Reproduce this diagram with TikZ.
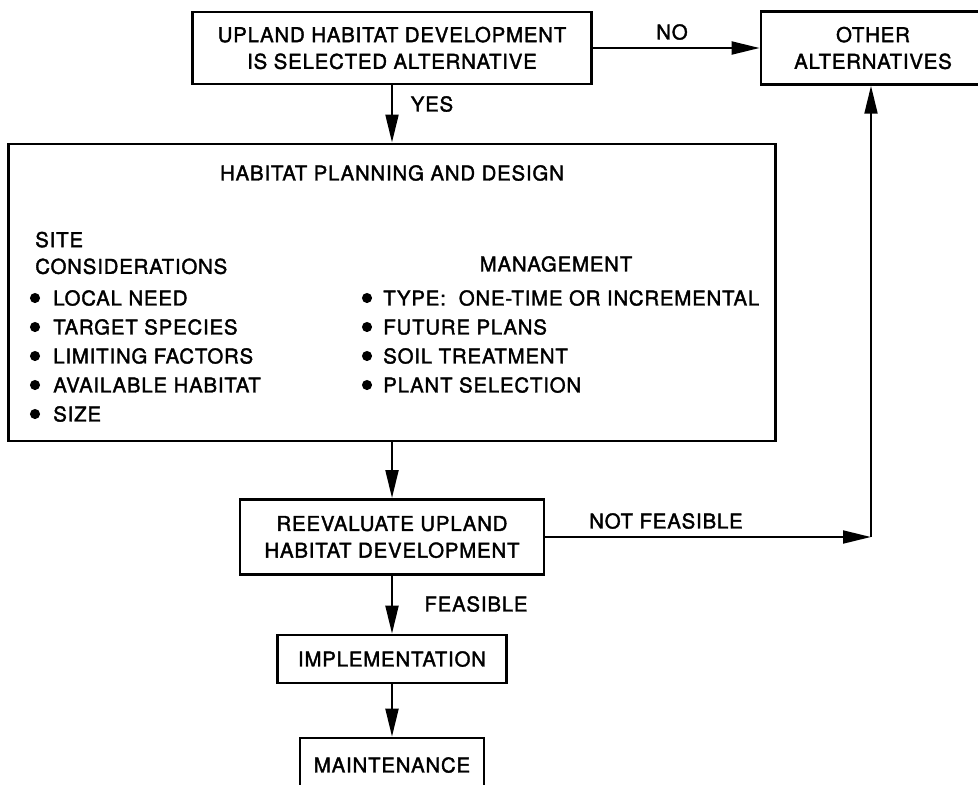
\documentclass[tikz,border=0pt]{standalone}
\usepackage{fontspec}
\setmainfont{TeX Gyre Heros}[FakeBold=1.8,LetterSpace=4]
\usetikzlibrary{arrows.meta,positioning}
\tikzset{
  >={Triangle[length=7mm,width=3.2mm]},
  box/.style={draw,line width=1.8pt,align=center,inner sep=0pt,
    font=\fontsize{14.5}{19}\selectfont},
  flow/.style={->,line width=1.8pt},
  tag/.style={font=\fontsize{14.5}{19}\selectfont,inner sep=0pt},
}

\begin{document}
\begin{tikzpicture}[x=0.025cm,y=-0.025cm]
  \useasboundingbox (0,0) rectangle (978,784);
  % boxes
  \node[box,minimum width=9.98cm,minimum height=1.8cm] (sel) at (392,48) {UPLAND HABITAT DEVELOPMENT\\IS SELECTED ALTERNATIVE};
  \node[box,minimum width=5.6cm,minimum height=1.82cm] (other) at (873,48) {OTHER\\ALTERNATIVES};
  \node[box,minimum width=19.18cm,minimum height=7.43cm] (plan) at (392,292.5) {};
  \node[box,minimum width=7.6cm,minimum height=1.88cm] (re) at (392,537) {REEVALUATE UPLAND\\HABITAT DEVELOPMENT};
  \node[box,minimum width=5.72cm,minimum height=1.2cm] (impl) at (392,659) {IMPLEMENTATION};
  \node[box,minimum width=4.6cm,minimum height=1.35cm] (maint) at (392,765) {MAINTENANCE};
  % inside the planning box
  \node[tag] (title) at (392,173) {HABITAT PLANNING AND DESIGN};
  \node[tag,anchor=west,align=left] (site) at (35,253) {SITE\\CONSIDERATIONS};
  \node[tag] (mgmt) at (556,264) {MANAGEMENT};
  \foreach \txt [count=\i] in {LOCAL NEED,TARGET SPECIES,LIMITING FACTORS,AVAILABLE HABITAT,SIZE} {
    \fill (35,269+29*\i) circle (3.6pt);
    \node[tag,anchor=west] (site\i) at (53,269+29*\i) {\txt};
  }
  \foreach \txt [count=\i] in {TYPE:\ \ ONE-TIME OR INCREMENTAL,FUTURE PLANS,SOIL TREATMENT,PLANT SELECTION} {
    \fill (367,269+29*\i) circle (3.6pt);
    \node[tag,anchor=west] (mgmt\i) at (383,269+29*\i) {\txt};
  }
  % connectors
  \coordinate (bend) at (871,537);
  \draw[flow] (sel) -- (other);
  \draw[flow] (sel) -- (plan);
  \draw[flow] (plan.south) -- (re.north);
  \draw[flow] (re) -- (impl);
  \draw[flow] (impl) -- (maint);
  \draw[flow] (re.east) -- (bend);
  \draw[flow] (bend) -- (bend |- other.south);
  % labels
  \node[tag] (no) at (672,32) {NO};
  \node[tag] (yes) at (432,104) {YES};
  \node[tag] (notf) at (666,521) {NOT FEASIBLE};
  \node[tag] (feas) at (476,604) {FEASIBLE};
\end{tikzpicture}
\end{document}
